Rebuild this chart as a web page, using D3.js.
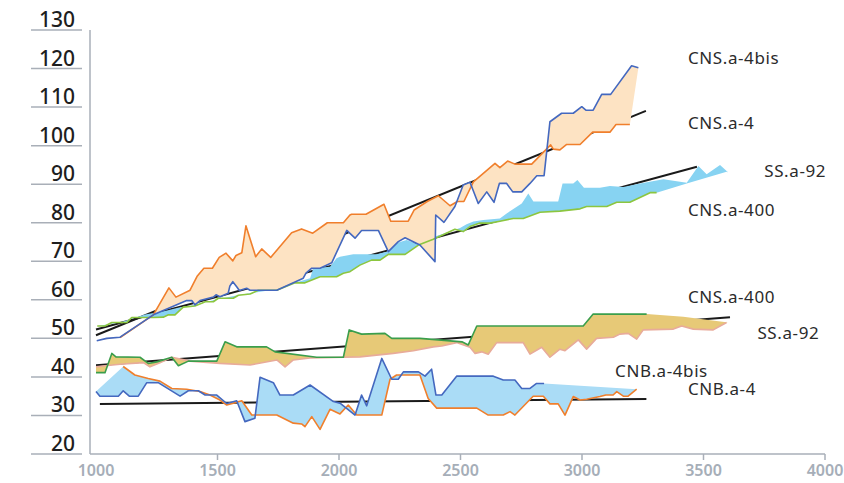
<!DOCTYPE html>
<html lang="en">
  <head>
    <meta charset="UTF-8" />
    <title>Trends</title>
    <script src="https://d3js.org/d3.v7.min.js"></script>
    <style>
      body { margin: 0; background: #fff; }
      text { font-family: "Noto Sans", "Open Sans", sans-serif; }
    </style>
  </head>
  <body>
    <script>
      // ---- data (x = size, y = value) ----
      const xTicks = [1000, 1500, 2000, 2500, 3000, 3500, 4000];
      const yTicks = [20, 30, 40, 50, 60, 70, 80, 90, 100, 110, 120, 130];

      // upper group
      const cnsA4bis = [[1003,49.4],[1044,50.0],[1099,50.3],[1236,56.1],[1373,59.8],[1394,59.8],[1407,58.7],[1428,59.8],[1483,60.7],[1494,61.3],[1510,60.8],[1544,61.7],[1551,63.6],[1563,64.7],[1579,63.4],[1590,62.4],[1620,63.0],[1634,62.5],[1744,62.5],[1853,65.6],[1864,66.9],[1888,68.2],[1922,68.2],[1970,69.6],[2032,78.0],[2066,76.0],[2093,78.0],[2162,78.0],[2203,72.5],[2244,75.1],[2272,76.1],[2333,74.2],[2395,69.9],[2398,82.0],[2432,80.1],[2477,84.2],[2511,89.8],[2539,90.5],[2573,85.0],[2608,88.0],[2638,85.3],[2660,90.2],[2690,90.2],[2715,88.0],[2752,88.0],[2786,90.2],[2814,92.2],[2844,92.2],[2868,106.2],[2916,108.4],[2964,108.4],[2999,110.1],[3016,109.2],[3046,109.2],[3081,113.3],[3118,113.3],[3204,120.7],[3232,120.2]];
      const cnsA4 = [[1099,50.2],[1236,56.1],[1300,63.1],[1329,60.7],[1387,62.5],[1417,66.2],[1444,68.2],[1479,68.2],[1507,71.0],[1535,72.1],[1563,70.1],[1576,71.5],[1600,72.2],[1617,79.2],[1657,71.2],[1682,73.2],[1719,71.0],[1805,77.4],[1846,78.4],[1892,77.3],[1952,80.0],[2018,80.0],[2045,82.0],[2052,82.2],[2111,82.2],[2185,84.8],[2213,80.4],[2285,80.4],[2309,83.3],[2363,85.5],[2409,87.0],[2457,84.4],[2487,85.5],[2514,85.5],[2553,90.6],[2642,95.4],[2662,94.3],[2694,96.0],[2724,95.2],[2793,95.2],[2871,100.2],[2882,99.1],[2909,98.9],[2937,100.3],[2992,100.3],[3044,103.5],[3115,103.5],[3140,105.5],[3197,105.5]];
      const ssA92Top = [[1099,54.1],[1202,56.2],[1284,57.1],[1346,58.1],[1387,58.4],[1490,60.0],[1593,61.3],[1716,62.5],[1881,65.6],[1894,68.2],[1963,68.6],[1990,70.8],[2004,71.2],[2059,71.8],[2155,71.8],[2196,72.5],[2244,74.9],[2278,75.5],[2333,74.2],[2361,73.4],[2395,76.4],[2457,77.7],[2498,78.6],[2525,79.6],[2553,80.3],[2594,80.7],[2662,81.1],[2690,82.4],[2752,85.0],[2779,87.6],[2800,85.5],[2902,85.5],[2920,90.2],[2964,90.2],[2981,91.1],[3008,89.1],[3074,89.1],[3115,89.5],[3170,89.3],[3239,90.2],[3335,91.3],[3431,90.4],[3479,94.7],[3513,92.6],[3568,95.0],[3602,93.0]];
      const cnsA400Up = [[1005,53.2],[1037,53.2],[1065,54.1],[1126,54.1],[1147,55.4],[1236,55.4],[1277,55.5],[1298,56.1],[1325,56.1],[1359,58.1],[1407,58.4],[1435,59.1],[1449,59.5],[1483,59.5],[1503,60.4],[1565,60.4],[1586,61.2],[1634,61.5],[1668,62.5],[1744,62.5],[1819,64.4],[1860,64.4],[1922,66.0],[1990,66.0],[2018,66.9],[2045,67.3],[2086,69.0],[2134,70.3],[2169,70.3],[2203,71.8],[2272,71.8],[2327,74.2],[2388,75.7],[2477,78.3],[2511,77.7],[2539,79.0],[2580,79.9],[2621,79.9],[2662,80.4],[2717,81.1],[2758,81.1],[2827,82.7],[2909,83.0],[2992,83.6],[3019,84.2],[3102,84.2],[3143,85.3],[3197,85.3],[3280,87.8],[3307,87.8]];
      const cnsA400UpTail = [[3431,90.2],[3595,93.2]];

      // lower group
      const cnsA400Low = [[1000,41.1],[1037,41.1],[1065,46.1],[1082,45.2],[1181,45.1],[1215,43.5],[1250,43.9],[1312,45.1],[1339,42.9],[1380,44.1],[1497,44.1],[1531,49.1],[1579,47.8],[1702,47.8],[1737,46.5],[1908,45.1],[2018,45.1],[2042,52.2],[2093,51.1],[2189,51.3],[2217,50.0],[2333,50.0],[2409,49.6],[2506,49.1],[2532,48.3],[2567,53.2],[3005,53.2],[3046,56.3],[3266,56.3]];
      const cnsA400LowTail = [[3417,55.6],[3513,54.8],[3602,54.1]];
      const ssA92Low = [[1000,42.6],[1037,42.9],[1099,43.3],[1195,43.7],[1222,42.6],[1263,43.7],[1312,45.1],[1387,44.1],[1428,43.9],[1510,43.5],[1634,43.1],[1744,44.4],[1778,42.6],[1812,44.4],[1881,44.9],[2018,45.1],[2086,45.2],[2223,46.1],[2306,46.8],[2388,47.8],[2423,48.0],[2484,48.9],[2539,47.7],[2560,46.1],[2587,46.5],[2614,45.9],[2649,48.9],[2758,48.9],[2786,45.9],[2834,47.7],[2868,45.1],[2909,47.2],[2930,46.8],[2985,49.6],[3019,47.2],[3060,50.0],[3129,50.3],[3156,51.1],[3190,51.3],[3225,49.8],[3252,52.2],[3376,52.4],[3410,53.2],[3458,52.4],[3540,52.2],[3595,54.1]];
      const cnbA4bis = [[1000,36.2],[1016,35.0],[1092,35.0],[1112,36.4],[1137,35.0],[1174,35.0],[1209,38.5],[1256,38.5],[1346,35.0],[1380,36.4],[1421,36.4],[1449,35.3],[1497,35.3],[1538,33.1],[1579,33.8],[1613,28.4],[1654,29.3],[1675,39.9],[1730,38.5],[1757,35.3],[1812,35.3],[1881,37.9],[1977,33.6],[2004,33.2],[2066,30.1],[2093,35.3],[2114,32.5],[2176,44.8],[2217,39.4],[2244,39.4],[2265,41.3],[2327,41.3],[2354,40.2],[2381,42.0],[2399,35.3],[2423,35.3],[2484,40.2],[2635,40.2],[2676,39.2],[2724,39.2],[2752,37.0],[2786,37.0],[2813,38.3],[2844,38.3]];
      const cnbA4bisTail = [[3225,36.8]];
      const cnbA4 = [[1112,42.7],[1160,40.5],[1215,39.6],[1263,38.9],[1312,37.0],[1373,36.8],[1428,36.2],[1469,35.3],[1510,34.0],[1538,32.7],[1565,33.2],[1600,33.8],[1641,30.1],[1744,30.1],[1812,28.0],[1846,27.8],[1860,27.1],[1888,29.7],[1922,26.4],[1963,31.6],[2004,30.4],[2038,32.7],[2073,30.1],[2176,30.1],[2210,39.4],[2237,40.5],[2333,40.5],[2367,34.4],[2402,31.9],[2567,31.9],[2614,30.1],[2676,30.1],[2704,31.0],[2724,30.1],[2799,35.0],[2841,35.0],[2868,33.0],[2902,33.0],[2930,30.1],[2964,34.9],[2992,34.0],[3019,34.2],[3074,34.9],[3098,35.3],[3128,35.3],[3143,36.2],[3170,35.0],[3190,35.0],[3225,36.8]];

      // linear trends [start, end]
      const trendCnsA4 = [[1000,50.8],[3263,109.0]];
      const trendSsA92 = [[1000,52.3],[3473,94.5]];
      const trendLow = [[1000,43.0],[3609,55.5]];
      const trendCnb = [[1016,33.0],[3265,34.3]];

      // series names, placed in chart units (baseline-left)
      const labels = [
        { text: "CNS.a-4bis", at: [3436, 121.2] },
        { text: "CNS.a-4", at: [3436, 104.3] },
        { text: "SS.a-92", at: [3750, 91.9] },
        { text: "CNS.a-400", at: [3436, 81.7] },
        { text: "CNS.a-400", at: [3436, 59.2] },
        { text: "SS.a-92", at: [3722, 49.8] },
        { text: "CNB.a-4bis", at: [3136, 40.0] },
        { text: "CNB.a-4", at: [3436, 35.3] }
      ];

      // ---- chart ----
      const width = 844, height = 483;
      const svg = d3.select("body").append("svg")
        .attr("width", width)
        .attr("height", height);

      const x = d3.scaleLinear().domain([1000, 4000]).range([96, 825]);
      const y = d3.scaleLinear().domain([20, 130]).range([454, 30]);

      const line = d3.line().x(d => x(d[0])).y(d => y(d[1]));
      const band = (top, bottom) => line(top.concat(bottom.slice().reverse())) + "Z";

      // y ticks: short rules with the label sitting on them
      const axisGrey = "#a9afb8";
      const yg = svg.append("g");
      yg.selectAll("line").data(yTicks).enter().append("line")
        .attr("x1", 31).attr("x2", 82)
        .attr("y1", d => y(d)).attr("y2", d => y(d))
        .attr("stroke", axisGrey).attr("stroke-width", 1.5);
      yg.selectAll("text").data(yTicks).enter().append("text")
        .attr("x", 75).attr("y", d => y(d) - 3)
        .attr("text-anchor", "end")
        .attr("font-size", 21).attr("font-weight", 500)
        .attr("fill", "#1e1e1e")
        .text(d => d);

      // axis frame
      svg.append("line")
        .attr("x1", x(1000) - 6).attr("x2", x(1000) - 6)
        .attr("y1", y(130)).attr("y2", y(20))
        .attr("stroke", axisGrey).attr("stroke-width", 1.5);
      svg.append("line")
        .attr("x1", x(1000) - 6).attr("x2", x(4000))
        .attr("y1", y(20)).attr("y2", y(20))
        .attr("stroke", axisGrey).attr("stroke-width", 1.5);

      const xg = svg.append("g");
      xg.selectAll("line").data(xTicks.slice(1)).enter().append("line")
        .attr("x1", d => x(d)).attr("x2", d => x(d))
        .attr("y1", y(20)).attr("y2", y(20) + 6)
        .attr("stroke", axisGrey).attr("stroke-width", 1.5);
      xg.selectAll("text").data(xTicks).enter().append("text")
        .attr("x", d => x(d)).attr("y", 476)
        .attr("text-anchor", "middle")
        .attr("font-size", 16).attr("font-weight", 600)
        .attr("fill", "#a6aeb8")
        .text(d => d);

      // trend lines sit under the bands
      [trendCnsA4, trendSsA92, trendLow, trendCnb].forEach(t => {
        svg.append("path").attr("d", line(t))
          .attr("fill", "none").attr("stroke", "#1a1a1a").attr("stroke-width", 2);
      });

      // bands
      svg.append("path").attr("d", band(ssA92Top, cnsA400Up.concat(cnsA400UpTail)))
        .attr("fill", "#87d3f2");
      svg.append("path").attr("d", band(cnsA4bis, cnsA4))
        .attr("fill", "#fde3c3");
      svg.append("path").attr("d", band(cnsA400Low.concat(cnsA400LowTail), ssA92Low))
        .attr("fill", "#e7c977");
      svg.append("path").attr("d", band(cnbA4bis.concat(cnbA4bisTail), cnbA4))
        .attr("fill", "#aadcf6");

      // series lines
      const series = [
        [cnsA400Up, "#8cc63f"],
        [cnsA4, "#f07f2c"],
        [cnsA4bis, "#4468bf"],
        [ssA92Low, "#e8ab9a"],
        [cnsA400Low, "#3b9e4c"],
        [cnbA4, "#f07f2c"],
        [cnbA4bis, "#4468bf"]
      ];
      series.forEach(s => {
        svg.append("path").attr("d", line(s[0]))
          .attr("fill", "none").attr("stroke", s[1])
          .attr("stroke-width", 1.6).attr("stroke-linejoin", "round");
      });

      svg.append("g").selectAll("text").data(labels).enter().append("text")
        .attr("x", d => x(d.at[0]))
        .attr("y", d => y(d.at[1]))
        .attr("font-size", 17)
        .attr("letter-spacing", 0.6)
        .attr("fill", "#2b2b2b")
        .text(d => d.text);
    </script>
  </body>
</html>
